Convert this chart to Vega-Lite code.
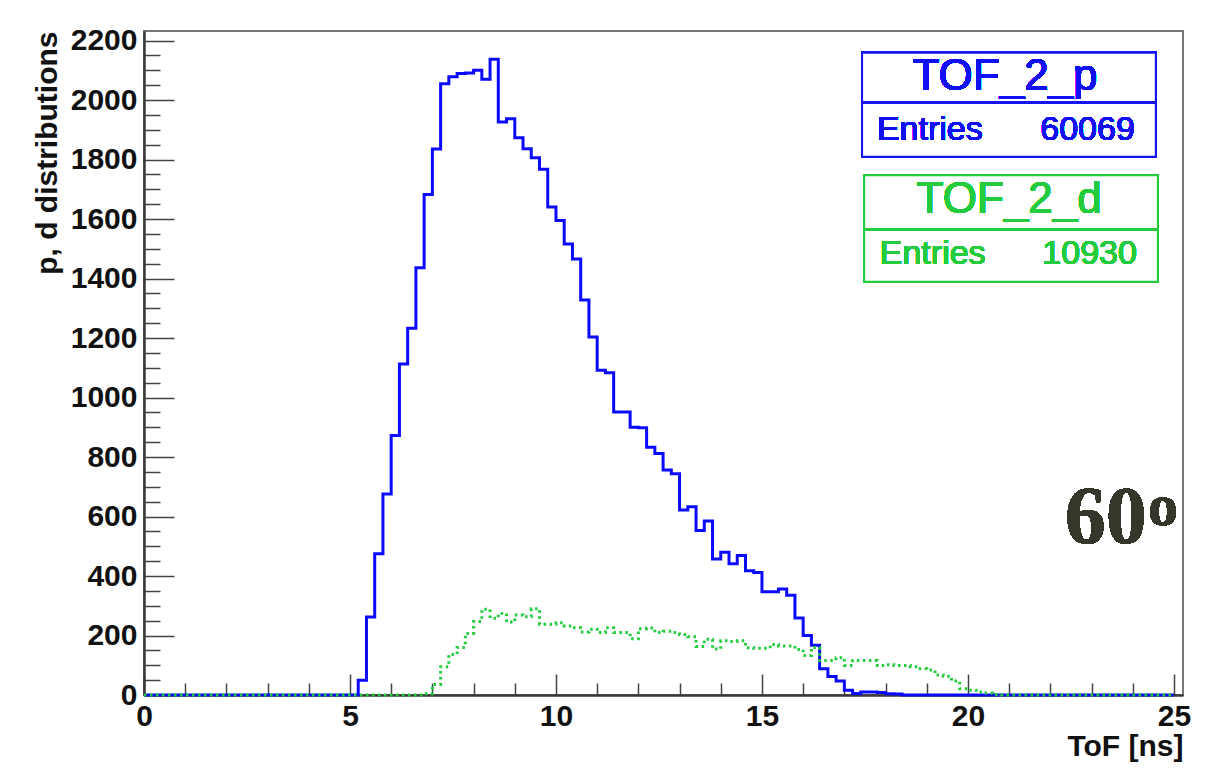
{
  "$schema": "https://vega.github.io/schema/vega-lite/v6.json",
  "width": 1039,
  "height": 664,
  "autosize": {"type": "none"},
  "padding": {"left": 144, "top": 31, "right": 22, "bottom": 79},
  "background": "white",
  "config": {
    "view": {"stroke": "#777777", "strokeWidth": 2},
    "axis": {"grid": false, "labelFlush": false, "labelOverlap": false}
  },
  "datasets": {
    "hist": [
      {"t": 0, "n": 0, "h": "TOF_2_p"},
      {"t": 5.2, "n": 50, "h": "TOF_2_p"},
      {"t": 5.4, "n": 262, "h": "TOF_2_p"},
      {"t": 5.6, "n": 475, "h": "TOF_2_p"},
      {"t": 5.8, "n": 676, "h": "TOF_2_p"},
      {"t": 6.0, "n": 872, "h": "TOF_2_p"},
      {"t": 6.2, "n": 1113, "h": "TOF_2_p"},
      {"t": 6.4, "n": 1233, "h": "TOF_2_p"},
      {"t": 6.6, "n": 1436, "h": "TOF_2_p"},
      {"t": 6.8, "n": 1682, "h": "TOF_2_p"},
      {"t": 7.0, "n": 1835, "h": "TOF_2_p"},
      {"t": 7.2, "n": 2055, "h": "TOF_2_p"},
      {"t": 7.4, "n": 2078, "h": "TOF_2_p"},
      {"t": 7.6, "n": 2089, "h": "TOF_2_p"},
      {"t": 7.8, "n": 2091, "h": "TOF_2_p"},
      {"t": 8.0, "n": 2100, "h": "TOF_2_p"},
      {"t": 8.2, "n": 2070, "h": "TOF_2_p"},
      {"t": 8.4, "n": 2137, "h": "TOF_2_p"},
      {"t": 8.6, "n": 1926, "h": "TOF_2_p"},
      {"t": 8.8, "n": 1937, "h": "TOF_2_p"},
      {"t": 9.0, "n": 1873, "h": "TOF_2_p"},
      {"t": 9.2, "n": 1836, "h": "TOF_2_p"},
      {"t": 9.4, "n": 1806, "h": "TOF_2_p"},
      {"t": 9.6, "n": 1767, "h": "TOF_2_p"},
      {"t": 9.8, "n": 1640, "h": "TOF_2_p"},
      {"t": 10.0, "n": 1595, "h": "TOF_2_p"},
      {"t": 10.2, "n": 1516, "h": "TOF_2_p"},
      {"t": 10.4, "n": 1466, "h": "TOF_2_p"},
      {"t": 10.6, "n": 1328, "h": "TOF_2_p"},
      {"t": 10.8, "n": 1203, "h": "TOF_2_p"},
      {"t": 11.0, "n": 1092, "h": "TOF_2_p"},
      {"t": 11.2, "n": 1083, "h": "TOF_2_p"},
      {"t": 11.4, "n": 951, "h": "TOF_2_p"},
      {"t": 11.6, "n": 951, "h": "TOF_2_p"},
      {"t": 11.8, "n": 900, "h": "TOF_2_p"},
      {"t": 12.0, "n": 898, "h": "TOF_2_p"},
      {"t": 12.2, "n": 833, "h": "TOF_2_p"},
      {"t": 12.4, "n": 812, "h": "TOF_2_p"},
      {"t": 12.6, "n": 756, "h": "TOF_2_p"},
      {"t": 12.8, "n": 744, "h": "TOF_2_p"},
      {"t": 13.0, "n": 622, "h": "TOF_2_p"},
      {"t": 13.2, "n": 633, "h": "TOF_2_p"},
      {"t": 13.4, "n": 553, "h": "TOF_2_p"},
      {"t": 13.6, "n": 585, "h": "TOF_2_p"},
      {"t": 13.8, "n": 457, "h": "TOF_2_p"},
      {"t": 14.0, "n": 480, "h": "TOF_2_p"},
      {"t": 14.2, "n": 441, "h": "TOF_2_p"},
      {"t": 14.4, "n": 469, "h": "TOF_2_p"},
      {"t": 14.6, "n": 418, "h": "TOF_2_p"},
      {"t": 14.8, "n": 412, "h": "TOF_2_p"},
      {"t": 15.0, "n": 347, "h": "TOF_2_p"},
      {"t": 15.2, "n": 347, "h": "TOF_2_p"},
      {"t": 15.4, "n": 356, "h": "TOF_2_p"},
      {"t": 15.6, "n": 335, "h": "TOF_2_p"},
      {"t": 15.8, "n": 259, "h": "TOF_2_p"},
      {"t": 16.0, "n": 200, "h": "TOF_2_p"},
      {"t": 16.2, "n": 167, "h": "TOF_2_p"},
      {"t": 16.4, "n": 88, "h": "TOF_2_p"},
      {"t": 16.6, "n": 62, "h": "TOF_2_p"},
      {"t": 16.8, "n": 47, "h": "TOF_2_p"},
      {"t": 17.0, "n": 16, "h": "TOF_2_p"},
      {"t": 17.2, "n": 5, "h": "TOF_2_p"},
      {"t": 17.4, "n": 10, "h": "TOF_2_p"},
      {"t": 17.6, "n": 10, "h": "TOF_2_p"},
      {"t": 17.8, "n": 8, "h": "TOF_2_p"},
      {"t": 18.0, "n": 4, "h": "TOF_2_p"},
      {"t": 18.2, "n": 3, "h": "TOF_2_p"},
      {"t": 18.4, "n": 0, "h": "TOF_2_p"},
      {"t": 25.0, "n": 0, "h": "TOF_2_p"},
      {"t": 0, "n": 0, "h": "TOF_2_d"},
      {"t": 6.8, "n": 4, "h": "TOF_2_d"},
      {"t": 7.0, "n": 35, "h": "TOF_2_d"},
      {"t": 7.2, "n": 95, "h": "TOF_2_d"},
      {"t": 7.4, "n": 136, "h": "TOF_2_d"},
      {"t": 7.6, "n": 160, "h": "TOF_2_d"},
      {"t": 7.8, "n": 207, "h": "TOF_2_d"},
      {"t": 8.0, "n": 247, "h": "TOF_2_d"},
      {"t": 8.2, "n": 288, "h": "TOF_2_d"},
      {"t": 8.4, "n": 258, "h": "TOF_2_d"},
      {"t": 8.6, "n": 274, "h": "TOF_2_d"},
      {"t": 8.8, "n": 245, "h": "TOF_2_d"},
      {"t": 9.0, "n": 269, "h": "TOF_2_d"},
      {"t": 9.2, "n": 263, "h": "TOF_2_d"},
      {"t": 9.4, "n": 290, "h": "TOF_2_d"},
      {"t": 9.6, "n": 238, "h": "TOF_2_d"},
      {"t": 9.8, "n": 238, "h": "TOF_2_d"},
      {"t": 10.0, "n": 243, "h": "TOF_2_d"},
      {"t": 10.2, "n": 232, "h": "TOF_2_d"},
      {"t": 10.4, "n": 226, "h": "TOF_2_d"},
      {"t": 10.6, "n": 212, "h": "TOF_2_d"},
      {"t": 10.8, "n": 221, "h": "TOF_2_d"},
      {"t": 11.0, "n": 210, "h": "TOF_2_d"},
      {"t": 11.2, "n": 226, "h": "TOF_2_d"},
      {"t": 11.4, "n": 210, "h": "TOF_2_d"},
      {"t": 11.6, "n": 210, "h": "TOF_2_d"},
      {"t": 11.8, "n": 189, "h": "TOF_2_d"},
      {"t": 12.0, "n": 223, "h": "TOF_2_d"},
      {"t": 12.2, "n": 225, "h": "TOF_2_d"},
      {"t": 12.4, "n": 210, "h": "TOF_2_d"},
      {"t": 12.6, "n": 214, "h": "TOF_2_d"},
      {"t": 12.8, "n": 210, "h": "TOF_2_d"},
      {"t": 13.0, "n": 203, "h": "TOF_2_d"},
      {"t": 13.2, "n": 196, "h": "TOF_2_d"},
      {"t": 13.4, "n": 163, "h": "TOF_2_d"},
      {"t": 13.6, "n": 187, "h": "TOF_2_d"},
      {"t": 13.8, "n": 155, "h": "TOF_2_d"},
      {"t": 14.0, "n": 182, "h": "TOF_2_d"},
      {"t": 14.2, "n": 180, "h": "TOF_2_d"},
      {"t": 14.4, "n": 182, "h": "TOF_2_d"},
      {"t": 14.6, "n": 159, "h": "TOF_2_d"},
      {"t": 14.8, "n": 157, "h": "TOF_2_d"},
      {"t": 15.0, "n": 157, "h": "TOF_2_d"},
      {"t": 15.2, "n": 170, "h": "TOF_2_d"},
      {"t": 15.4, "n": 165, "h": "TOF_2_d"},
      {"t": 15.6, "n": 165, "h": "TOF_2_d"},
      {"t": 15.8, "n": 153, "h": "TOF_2_d"},
      {"t": 16.0, "n": 133, "h": "TOF_2_d"},
      {"t": 16.2, "n": 160, "h": "TOF_2_d"},
      {"t": 16.4, "n": 116, "h": "TOF_2_d"},
      {"t": 16.6, "n": 116, "h": "TOF_2_d"},
      {"t": 16.8, "n": 125, "h": "TOF_2_d"},
      {"t": 17.0, "n": 99, "h": "TOF_2_d"},
      {"t": 17.2, "n": 116, "h": "TOF_2_d"},
      {"t": 17.4, "n": 116, "h": "TOF_2_d"},
      {"t": 17.6, "n": 116, "h": "TOF_2_d"},
      {"t": 17.8, "n": 99, "h": "TOF_2_d"},
      {"t": 18.0, "n": 102, "h": "TOF_2_d"},
      {"t": 18.2, "n": 99, "h": "TOF_2_d"},
      {"t": 18.4, "n": 99, "h": "TOF_2_d"},
      {"t": 18.6, "n": 95, "h": "TOF_2_d"},
      {"t": 18.8, "n": 88, "h": "TOF_2_d"},
      {"t": 19.0, "n": 84, "h": "TOF_2_d"},
      {"t": 19.2, "n": 67, "h": "TOF_2_d"},
      {"t": 19.4, "n": 63, "h": "TOF_2_d"},
      {"t": 19.6, "n": 47, "h": "TOF_2_d"},
      {"t": 19.8, "n": 21, "h": "TOF_2_d"},
      {"t": 20.0, "n": 16, "h": "TOF_2_d"},
      {"t": 20.2, "n": 10, "h": "TOF_2_d"},
      {"t": 20.4, "n": 7, "h": "TOF_2_d"},
      {"t": 20.6, "n": 2, "h": "TOF_2_d"},
      {"t": 20.8, "n": 0, "h": "TOF_2_d"},
      {"t": 25.0, "n": 0, "h": "TOF_2_d"}
    ]
  },
  "data": {"name": "hist"},
  "resolve": {"axis": {"x": "independent", "y": "independent"}},
  "layer": [
    {
      "mark": {"type": "line", "opacity": 0},
      "encoding": {
        "x": {"field": "t", "type": "quantitative", "scale": {"domain": [0, 25.22], "nice": false, "zero": false},
          "axis": {"orient": "bottom", "values": [1,2,3,4,6,7,8,9,11,12,13,14,16,17,18,19,21,22,23,24], "labels": false, "domain": false, "ticks": true, "tickSize": -12, "tickWidth": 1.5, "tickColor": "#444444", "title": null}},
        "y": {"field": "n", "type": "quantitative", "scale": {"domain": [0, 2232], "nice": false},
          "axis": {"orient": "left", "values": [50,100,150,250,300,350,450,500,550,650,700,750,850,900,950,1050,1100,1150,1250,1300,1350,1450,1500,1550,1650,1700,1750,1850,1900,1950,2050,2100,2150], "labels": false, "domain": false, "ticks": true, "tickSize": -16, "tickWidth": 1.5, "tickColor": "#444444", "title": null}}
      }
    },
    {
      "mark": {"type": "line", "interpolate": "step-after", "strokeWidth": 3, "strokeCap": "butt"},
      "encoding": {
        "x": {"field": "t", "type": "quantitative",
          "axis": {"orient": "bottom", "values": [0,5,10,15,20,25], "format": "d", "tickSize": -21, "tickWidth": 1.5, "tickColor": "#444444",
            "domainColor": "#3a3a3a", "domainWidth": 2.5,
            "labelFont": "Liberation Sans", "labelFontWeight": "bold", "labelFontSize": 30, "labelColor": "#111111", "labelPadding": 27,
            "title": "ToF [ns]", "titleFont": "Liberation Sans", "titleFontWeight": "bold", "titleFontSize": 30, "titleColor": "#111111", "titleAnchor": "end", "titlePadding": 0}},
        "y": {"field": "n", "type": "quantitative",
          "axis": {"orient": "left", "values": [0,200,400,600,800,1000,1200,1400,1600,1800,2000,2200], "format": "d", "tickSize": -30, "tickWidth": 1.5, "tickColor": "#444444",
            "domainColor": "#3a3a3a", "domainWidth": 2.5,
            "labelFont": "Liberation Sans", "labelFontWeight": "bold", "labelFontSize": 30, "labelColor": "#111111", "labelPadding": 37,
            "title": "p, d distributions", "titleFont": "Liberation Sans", "titleFontWeight": "bold", "titleFontSize": 30, "titleColor": "#111111", "titleAnchor": "end", "titlePadding": 8}},
        "color": {"field": "h", "type": "nominal", "scale": {"domain": ["TOF_2_p", "TOF_2_d"], "range": ["#0a0aff", "#22cc3c"]}, "legend": null},
        "strokeDash": {"field": "h", "type": "nominal", "scale": {"domain": ["TOF_2_p", "TOF_2_d"], "range": [[1, 0], [2.5, 3.5]]}, "legend": null}
      }
    },
    {
      "mark": {"type": "rect", "fill": "white", "stroke": "#1515f0", "strokeWidth": 2},
      "encoding": {
        "x": {"datum": 17.43, "type": "quantitative", "axis": null},
        "x2": {"datum": 24.56},
        "y": {"datum": 2159, "type": "quantitative", "axis": null},
        "y2": {"datum": 1809}
      }
    },
    {
      "mark": {"type": "rule", "stroke": "#1515f0", "strokeWidth": 2},
      "encoding": {
        "x": {"datum": 17.43, "type": "quantitative", "axis": null},
        "x2": {"datum": 24.56},
        "y": {"datum": 1991, "type": "quantitative", "axis": null}
      }
    },
    {
      "mark": {"type": "rect", "fill": "white", "stroke": "#22cc3c", "strokeWidth": 2},
      "encoding": {
        "x": {"datum": 17.48, "type": "quantitative", "axis": null},
        "x2": {"datum": 24.61},
        "y": {"datum": 1747, "type": "quantitative", "axis": null},
        "y2": {"datum": 1389}
      }
    },
    {
      "mark": {"type": "rule", "stroke": "#22cc3c", "strokeWidth": 2},
      "encoding": {
        "x": {"datum": 17.48, "type": "quantitative", "axis": null},
        "x2": {"datum": 24.61},
        "y": {"datum": 1565, "type": "quantitative", "axis": null}
      }
    },
    {
      "mark": {"type": "text", "text": "TOF_2_p", "font": "Liberation Sans", "fontWeight": "normal", "fontSize": 44, "color": "#1010f5", "align": "center", "baseline": "alphabetic"},
      "encoding": {
        "x": {"datum": 20.9, "type": "quantitative", "axis": null},
        "y": {"datum": 2034, "type": "quantitative", "axis": null}
      }
    },
    {
      "mark": {"type": "text", "text": "Entries", "font": "Liberation Sans", "fontWeight": "normal", "fontSize": 34, "color": "#1010f5", "align": "left", "baseline": "alphabetic"},
      "encoding": {
        "x": {"datum": 17.79, "type": "quantitative", "axis": null},
        "y": {"datum": 1866, "type": "quantitative", "axis": null}
      }
    },
    {
      "mark": {"type": "text", "text": "60069", "font": "Liberation Sans", "fontWeight": "normal", "fontSize": 34, "color": "#1010f5", "align": "right", "baseline": "alphabetic"},
      "encoding": {
        "x": {"datum": 24.05, "type": "quantitative", "axis": null},
        "y": {"datum": 1866, "type": "quantitative", "axis": null}
      }
    },
    {
      "mark": {"type": "text", "text": "TOF_2_d", "font": "Liberation Sans", "fontWeight": "normal", "fontSize": 44, "color": "#22cc3c", "align": "center", "baseline": "alphabetic"},
      "encoding": {
        "x": {"datum": 21.0, "type": "quantitative", "axis": null},
        "y": {"datum": 1619, "type": "quantitative", "axis": null}
      }
    },
    {
      "mark": {"type": "text", "text": "Entries", "font": "Liberation Sans", "fontWeight": "normal", "fontSize": 34, "color": "#22cc3c", "align": "left", "baseline": "alphabetic"},
      "encoding": {
        "x": {"datum": 17.86, "type": "quantitative", "axis": null},
        "y": {"datum": 1449, "type": "quantitative", "axis": null}
      }
    },
    {
      "mark": {"type": "text", "text": "10930", "font": "Liberation Sans", "fontWeight": "normal", "fontSize": 34, "color": "#22cc3c", "align": "right", "baseline": "alphabetic"},
      "encoding": {
        "x": {"datum": 24.1, "type": "quantitative", "axis": null},
        "y": {"datum": 1449, "type": "quantitative", "axis": null}
      }
    },
    {
      "mark": {"type": "text", "text": "60", "font": "Liberation Serif", "fontWeight": "bold", "fontSize": 82, "color": "#36362a", "align": "right", "baseline": "alphabetic"},
      "encoding": {
        "x": {"datum": 24.34, "type": "quantitative", "axis": null},
        "y": {"datum": 511, "type": "quantitative", "axis": null}
      }
    },
    {
      "mark": {"type": "text", "text": "o", "font": "Liberation Serif", "fontWeight": "bold", "fontSize": 60, "color": "#36362a", "align": "left", "baseline": "alphabetic"},
      "encoding": {
        "x": {"datum": 24.37, "type": "quantitative", "axis": null},
        "y": {"datum": 571, "type": "quantitative", "axis": null}
      }
    }
  ]
}
